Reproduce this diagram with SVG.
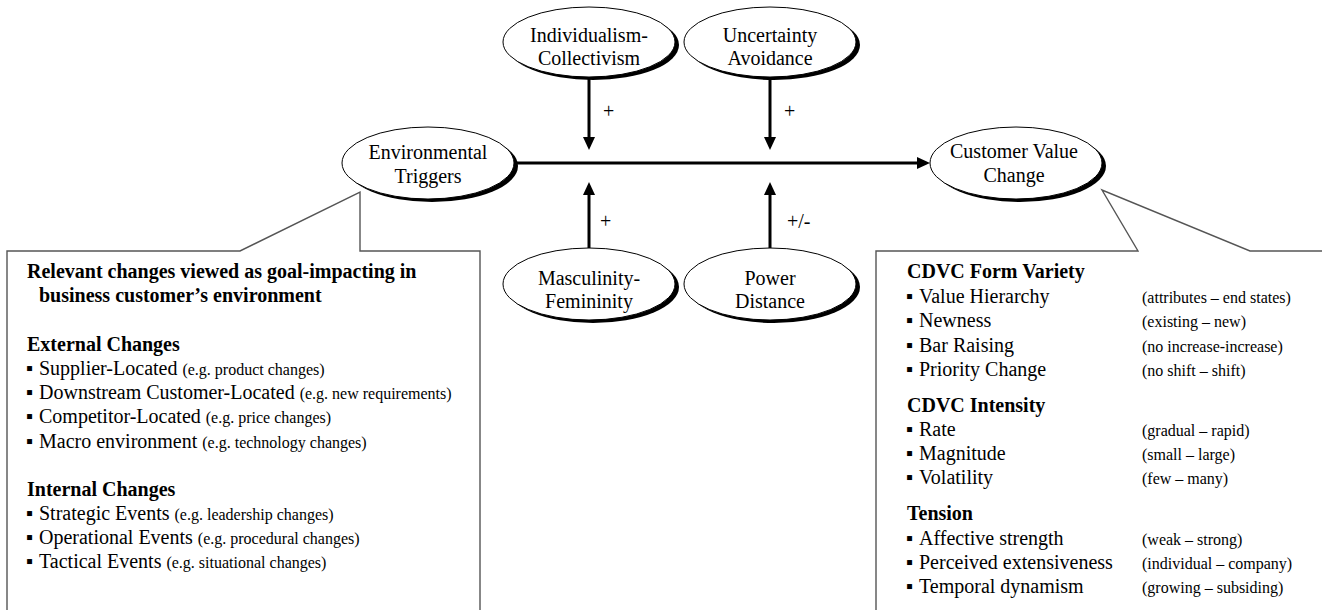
<svg xmlns="http://www.w3.org/2000/svg" width="1322" height="610" viewBox="0 0 1322 610">
<style>
text{font-family:"Liberation Serif","Times New Roman",serif;fill:#000}
.lbl{font-size:20px;text-anchor:middle}
.t{font-size:20px}
.b{font-size:20px;font-weight:bold}
.s{font-size:16px}
.shadow{fill:#000}
.node{fill:#fff;stroke:#000;stroke-width:1}
.box{fill:#fff;stroke:#555;stroke-width:1.4}
.arr{stroke:#000;stroke-width:3;fill:none}
.sign{font-size:20px}
</style>
<defs>
<marker id="ah" markerUnits="userSpaceOnUse" markerWidth="14" markerHeight="12" refX="4" refY="6" orient="auto">
<path d="M0,0 L13,6 L0,12 z" fill="#000"/>
</marker>
</defs>

<g id="left-box">
<path class="box" d="M7,615 L7,251 L240,251 L360,192 L360,251 L480,251 L480,615"/>
<text class="b" x="27" y="278">Relevant changes viewed as goal-impacting in</text>
<text class="b" x="39" y="302">business customer’s environment</text>
<text class="b" x="27" y="351">External Changes</text>
<text class="t" y="375"><tspan x="26">▪</tspan><tspan x="39">Supplier-Located </tspan><tspan class="s">(e.g. product changes)</tspan></text>
<text class="t" y="399"><tspan x="26">▪</tspan><tspan x="39">Downstream Customer-Located </tspan><tspan class="s">(e.g. new requirements)</tspan></text>
<text class="t" y="423"><tspan x="26">▪</tspan><tspan x="39">Competitor-Located </tspan><tspan class="s">(e.g. price changes)</tspan></text>
<text class="t" y="448"><tspan x="26">▪</tspan><tspan x="39">Macro environment </tspan><tspan class="s">(e.g. technology changes)</tspan></text>
<text class="b" x="27" y="496">Internal Changes</text>
<text class="t" y="520"><tspan x="26">▪</tspan><tspan x="39">Strategic Events </tspan><tspan class="s">(e.g. leadership changes)</tspan></text>
<text class="t" y="544"><tspan x="26">▪</tspan><tspan x="39">Operational Events </tspan><tspan class="s">(e.g. procedural changes)</tspan></text>
<text class="t" y="568"><tspan x="26">▪</tspan><tspan x="39">Tactical Events </tspan><tspan class="s">(e.g. situational changes)</tspan></text>
</g>

<g id="right-box">
<path class="box" d="M876,615 L876,251 L1138,251 L1102,190 L1250,251 L1330,251"/>
<text class="b" x="907" y="278">CDVC Form Variety</text>
<text class="t" y="303"><tspan x="906">▪</tspan><tspan x="919">Value Hierarchy</tspan></text>
<text class="s" x="1142" y="303">(attributes – end states)</text>
<text class="t" y="327"><tspan x="906">▪</tspan><tspan x="919">Newness</tspan></text>
<text class="s" x="1142" y="327">(existing – new)</text>
<text class="t" y="352"><tspan x="906">▪</tspan><tspan x="919">Bar Raising</tspan></text>
<text class="s" x="1142" y="352">(no increase-increase)</text>
<text class="t" y="376"><tspan x="906">▪</tspan><tspan x="919">Priority Change</tspan></text>
<text class="s" x="1142" y="376">(no shift – shift)</text>
<text class="b" x="907" y="412">CDVC Intensity</text>
<text class="t" y="436"><tspan x="906">▪</tspan><tspan x="919">Rate</tspan></text>
<text class="s" x="1142" y="436">(gradual – rapid)</text>
<text class="t" y="460"><tspan x="906">▪</tspan><tspan x="919">Magnitude</tspan></text>
<text class="s" x="1142" y="460">(small – large)</text>
<text class="t" y="484"><tspan x="906">▪</tspan><tspan x="919">Volatility</tspan></text>
<text class="s" x="1142" y="484">(few – many)</text>
<text class="b" x="907" y="520">Tension</text>
<text class="t" y="545"><tspan x="906">▪</tspan><tspan x="919">Affective strength</tspan></text>
<text class="s" x="1142" y="545">(weak – strong)</text>
<text class="t" y="569"><tspan x="906">▪</tspan><tspan x="919">Perceived extensiveness</tspan></text>
<text class="s" x="1142" y="569">(individual – company)</text>
<text class="t" y="593"><tspan x="906">▪</tspan><tspan x="919">Temporal dynamism</tspan></text>
<text class="s" x="1142" y="593">(growing – subsiding)</text>
</g>

<g id="connectors">
<line class="arr" x1="515" y1="163" x2="921" y2="163" marker-end="url(#ah)"/>
<line class="arr" x1="589" y1="79" x2="589" y2="141" marker-end="url(#ah)"/>
<line class="arr" x1="770" y1="79" x2="770" y2="141" marker-end="url(#ah)"/>
<line class="arr" x1="589" y1="248" x2="589" y2="191" marker-end="url(#ah)"/>
<line class="arr" x1="770" y1="248" x2="770" y2="191" marker-end="url(#ah)"/>
<text class="sign" x="603" y="118">+</text>
<text class="sign" x="784" y="118">+</text>
<text class="sign" x="600" y="228">+</text>
<text class="sign" x="787" y="228">+/-</text>
</g>

<g id="environmental-triggers">
<ellipse class="shadow" cx="432" cy="166" rx="86" ry="36"/>
<ellipse class="node" cx="428" cy="163" rx="86" ry="36"/>
<text class="lbl" x="428" y="159">Environmental</text>
<text class="lbl" x="428" y="183">Triggers</text>
</g>

<g id="customer-value-change">
<ellipse class="shadow" cx="1020" cy="166" rx="86" ry="36"/>
<ellipse class="node" cx="1016" cy="163" rx="86" ry="36"/>
<text class="lbl" x="1014" y="158">Customer Value</text>
<text class="lbl" x="1014" y="182">Change</text>
</g>

<g id="individualism-collectivism">
<ellipse class="shadow" cx="593" cy="45" rx="86" ry="35"/>
<ellipse class="node" cx="589" cy="42" rx="86" ry="35"/>
<text class="lbl" x="589" y="42">Individualism-</text>
<text class="lbl" x="589" y="65">Collectivism</text>
</g>

<g id="uncertainty-avoidance">
<ellipse class="shadow" cx="774" cy="45" rx="86" ry="35"/>
<ellipse class="node" cx="770" cy="42" rx="86" ry="35"/>
<text class="lbl" x="770" y="42">Uncertainty</text>
<text class="lbl" x="770" y="65">Avoidance</text>
</g>

<g id="masculinity-femininity">
<ellipse class="shadow" cx="593" cy="287" rx="86" ry="36"/>
<ellipse class="node" cx="589" cy="284" rx="86" ry="36"/>
<text class="lbl" x="589" y="285">Masculinity-</text>
<text class="lbl" x="589" y="308">Femininity</text>
</g>

<g id="power-distance">
<ellipse class="shadow" cx="774" cy="287" rx="86" ry="36"/>
<ellipse class="node" cx="770" cy="284" rx="86" ry="36"/>
<text class="lbl" x="770" y="285">Power</text>
<text class="lbl" x="770" y="308">Distance</text>
</g>
</svg>
